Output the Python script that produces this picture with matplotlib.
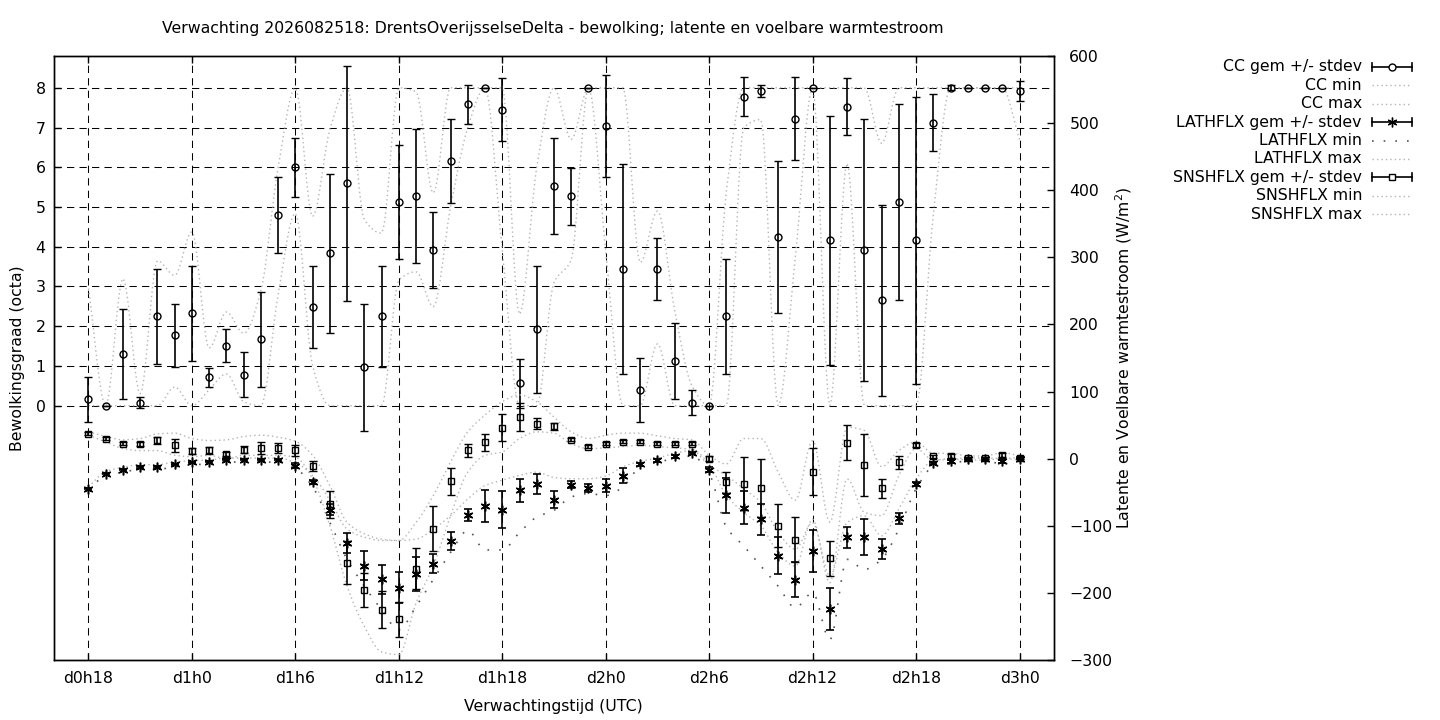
import numpy as np
import matplotlib
matplotlib.use('Agg')
import matplotlib.pyplot as plt
from matplotlib.lines import Line2D

# forecast hours (d0h18 .. d3h0)
hours = list(range(18, 73))
tick_hours = [18, 24, 30, 36, 42, 48, 54, 60, 66, 72]
tick_labels = ['d0h18', 'd1h0', 'd1h6', 'd1h12', 'd1h18', 'd2h0', 'd2h6', 'd2h12', 'd2h18', 'd3h0']

# bewolking (octa)
cc_mean = [0.16, 0.0, 1.30, 0.08, 2.25, 1.77, 2.32, 0.71, 1.51, 0.78, 1.67, 4.79,
           6.0, 2.48, 3.84, 5.60, 0.97, 2.25, 5.12, 5.28, 3.92, 6.16, 7.59, 8.0,
           7.45, 0.56, 1.92, 5.53, 5.27, 8.0, 7.04, 3.44, 0.40, 3.44, 1.12, 0.08,
           0.0, 2.25, 7.78, 7.92, 4.25, 7.22, 8.0, 4.16, 7.52, 3.92, 2.65, 5.12,
           4.16, 7.12, 8.0, 8.0, 8.0, 8.0, 7.92]
cc_sd = [0.56, 0.0, 1.13, 0.15, 1.20, 0.79, 1.20, 0.25, 0.41, 0.57, 1.20, 0.96,
         0.74, 1.03, 2.0, 2.96, 1.60, 1.27, 1.43, 1.68, 0.95, 1.05, 0.49, 0.0,
         0.80, 0.62, 1.60, 1.21, 0.72, 0.0, 1.29, 2.65, 0.80, 0.79, 0.96, 0.32,
         0.0, 1.45, 0.48, 0.16, 1.92, 1.04, 0.0, 3.13, 0.72, 3.30, 2.41, 2.47,
         3.61, 0.72, 0.06, 0.0, 0.0, 0.0, 0.24]
cc_min = [0, 0, 0, 0, 0, 0.47, 0, 0.4, 0.8, 0.1, 0, 2.8,
          4.84, 1.0, 0, 0, 0, 0, 3.16, 3.37, 2.49, 5.0, 7.0, 8.0,
          3.9, 0, 0, 3.1, 3.67, 8.0, 3.9, 0, 0, 1.56, 0, 0,
          0, 0, 7.0, 7.2, 0, 3.75, 8.0, 0, 6.1, 0, 0, 0,
          0, 4.8, 8.0, 8.0, 8.0, 8.0, 6.7]
cc_max = [2.95, 0, 3.2, 0.3, 3.65, 3.28, 4.38, 1.45, 2.36, 1.82, 2.9, 6.0,
          8.0, 4.76, 6.95, 8.0, 4.68, 4.34, 8.0, 7.9, 5.35, 8.0, 8.0, 8.0,
          8.0, 2.3, 6.0, 8.0, 6.7, 8.0, 8.0, 8.0, 3.6, 4.9, 2.4, 0.5,
          0, 5.4, 8, 8, 8, 8, 8, 8, 8, 8, 6.6, 8,
          8, 8, 8, 8, 8, 8, 8]

# latente warmtestroom (W/m2)
lat_mean = [-44.7, -22.3, -16.4, -12.4, -12.4, -8.4, -5.5, -4.5, -1.5, -1.5, -1.5, -1.5,
            -10.4, -35.2, -76, -125.6, -159.3, -180, -192, -172.2, -156.3, -123, -84.4, -71,
            -76, -47.1, -38.2, -61, -38.7, -43.2, -40.2, -25.3, -8.4, -2.5, 3.5, 8.4,
            -16.4, -54.6, -73, -90.3, -144.4, -180.1, -138, -224.3, -117.1, -117.1, -134.5, -88.8,
            -37.2, -6.5, -4, -0.5, -0.5, -4, 0]
lat_sd = [1, 1, 1, 1, 1, 1, 1, 1, 1, 1, 1, 1,
          4, 3, 8, 15, 22, 22, 23, 25, 14, 13, 9, 24,
          28, 17, 15, 13, 5, 6, 10, 11, 2, 2, 2, 2,
          4, 26, 25, 23, 28, 26, 31, 31, 16, 27, 15, 8,
          3, 2, 2, 1, 1, 2, 1]
lat_min = [-46, -25, -20, -16, -16, -12, -9, -8, -5, -5, -5, -5,
           -14, -42, -95, -150, -190, -225, -255, -220, -180, -140, -107, -136,
           -136, -110, -87, -77, -57, -52, -55, -42, -12, -5, 0, 4,
           -22, -102, -130, -160, -190, -222, -200, -270, -150, -165, -150, -105,
           -45, -12, -8, -3, -3, -8, -2]
lat_max = [-42, -19, -13, -9, -9, -5, -3, -2, 1, 1, 1, 1,
           -6, -25, -62, -105, -117, -122, -122, -120, -105, -85, -60, -40,
           -32, -25, -20, -28, -30, -30, -26, -12, -4, 1, 8, 12,
           -10, -25, -45, -65, -110, -135, -95, -175, -95, -85, -115, -75,
           -30, -3, -1, 1, 1, 0, 2]

# voelbare warmtestroom (W/m2)
sns_mean = [37.2, 29.8, 22.3, 22.3, 27.3, 19.9, 11.4, 12.4, 7.4, 13.4, 15.9, 15.9,
            12.4, -10.9, -68, -154.8, -196, -224.8, -239, -163.8, -104.2, -33.7, 12.4, 24.3,
            46.2, 62.5, 52.1, 48.1, 28.3, 17.9, 22.3, 25.3, 25.3, 22.3, 22.3, 22.3,
            0, -35.2, -37.2, -43.2, -99.8, -120.6, -19.4, -148.4, 23.8, -9.9, -44.2, -5.5,
            20.8, 3.5, 4.5, 1, 1, 6, 1.5]
sns_sd = [2, 2, 2, 3, 5, 10, 4, 5, 3, 5, 9, 8,
          8, 7, 20, 32, 25, 27, 26, 30, 33, 20, 10, 13,
          20, 21, 8, 5, 2, 2, 2, 2, 2, 2, 2, 2,
          4, 16, 40, 43, 32, 33, 35, 26, 26, 46, 14, 10,
          3, 2, 3, 2, 2, 3, 2]
sns_min = [35, 25, 15, 12, 12, 5, 3, 5, 0, 5, 5, 5,
           2, -30, -100, -190, -250, -288, -292, -215, -160, -85, -20, 5,
           10, 30, 40, 38, 22, 15, 16, 18, 20, 18, 16, 14,
           -8, -55, -80, -100, -140, -160, -90, -185, -30, -80, -85, -25,
           15, -2, 0, -2, -2, 0, -2]
sns_max = [40, 33, 28, 30, 37, 38, 30, 27, 28, 33, 35, 32,
           26, 5, -40, -95, -112, -120, -122, -95, -55, -5, 40, 65,
           85, 95, 85, 62, 40, 30, 35, 38, 38, 34, 30, 28,
           5, -8, 30, 30, -20, -62, 27, -95, 47, 42, -12, 12,
           25, 8, 8, 4, 4, 9, 4]


def smooth(x, y, n=10):
    # monotone cubic (Fritsch-Carlson), only for drawing the min/max lines
    x = np.asarray(x, float)
    y = np.asarray(y, float)
    h = np.diff(x)
    dl = np.diff(y) / h
    m = np.zeros(len(x))
    m[0], m[-1] = dl[0], dl[-1]
    for k in range(1, len(x) - 1):
        if dl[k - 1] * dl[k] > 0:
            w1 = 2 * h[k] + h[k - 1]
            w2 = h[k] + 2 * h[k - 1]
            m[k] = (w1 + w2) / (w1 / dl[k - 1] + w2 / dl[k])
    xs, ys = [], []
    for i in range(len(x) - 1):
        t = np.linspace(0, 1, n, endpoint=False)
        h00 = 2 * t ** 3 - 3 * t ** 2 + 1
        h10 = t ** 3 - 2 * t ** 2 + t
        h01 = -2 * t ** 3 + 3 * t ** 2
        h11 = t ** 3 - t ** 2
        xs.append(x[i] + t * h[i])
        ys.append(h00 * y[i] + h10 * h[i] * m[i] + h01 * y[i + 1] + h11 * h[i] * m[i + 1])
    xs.append([x[-1]])
    ys.append([y[-1]])
    return np.concatenate(xs), np.concatenate(ys)


W, H = 1440, 720
plt.rcParams['font.family'] = 'DejaVu Sans'
plt.rcParams['font.size'] = 11.3

fig = plt.figure(figsize=(W / 100, H / 100), dpi=100)
ax = fig.add_axes([54 / W, 1 - 660 / H, 1000 / W, 604 / H])
ax2 = ax.twinx()

light = '#b4b4b4'
dots = (0, (1, 2.2))
star = (6, 2, 0)

ax.set_xlim(16, 74)
ax.set_ylim(-6.4, 8.8)
ax2.set_ylim(-300, 600)

# CC
for s in (cc_min, cc_max):
    xs, ys = smooth(hours, s)
    ax.plot(xs, ys, color=light, ls=dots, lw=1)
ax.errorbar(hours, cc_mean, yerr=cc_sd, fmt='o', ms=5, mfc='none', mec='k', mew=1,
            ecolor='k', elinewidth=1.2, capsize=3, capthick=1.2)

# fluxes
xs, ys = smooth(hours, lat_min)
ax2.plot(xs, ys, color='#555555', ls=(0, (1, 6)), lw=1.2)
for s in (lat_max, sns_min, sns_max):
    xs, ys = smooth(hours, s)
    ax2.plot(xs, ys, color=light, ls=dots, lw=1)
ax2.errorbar(hours, lat_mean, yerr=lat_sd, fmt='none', ecolor='k', elinewidth=1.2,
             capsize=3, capthick=1.2)
ax2.plot(hours, lat_mean, ls='none', marker=star, ms=7, mec='k', mew=1.1)
ax2.errorbar(hours, sns_mean, yerr=sns_sd, fmt='s', ms=4.8, mfc='none', mec='k', mew=1,
             ecolor='k', elinewidth=1.2, capsize=3, capthick=1.2)

# axes styling
ax.set_xticks(tick_hours)
ax.set_xticklabels(tick_labels)
ax.set_yticks(range(0, 9))
ax2.set_yticks(range(-300, 601, 100))
ax.grid(True, color='k', lw=0.75, ls=(0, (7, 5)))
ax.tick_params(axis='x', direction='in', length=5, width=1, top=True, pad=8)
ax.tick_params(axis='y', direction='in', length=5, width=1, right=False, pad=6)
ax2.tick_params(axis='y', direction='in', length=5, width=1, pad=11)
for a in (ax, ax2):
    for sp in a.spines.values():
        sp.set_linewidth(1)

fig.text(553 / W, 1 - 29 / H, 'Verwachting 2026082518: DrentsOverijsselseDelta - bewolking; latente en voelbare warmtestroom',
         ha='center', va='center')
fig.text(553 / W, 1 - 706 / H, 'Verwachtingstijd (UTC)', ha='center', va='center')
fig.text(18 / W, 1 - 358 / H, 'Bewolkingsgraad (octa)', ha='center', va='center', rotation=90)
fig.text(1124 / W, 1 - 358 / H, 'Latente en Voelbare warmtestroom (W/m$^2$)', ha='center', va='center',
         rotation=90)

# legend, gnuplot style (text right, sample after it)
entries = [('CC gem +/- stdev', 'err', 'o'), ('CC min', 'line', None), ('CC max', 'line', None),
           ('LATHFLX gem +/- stdev', 'err', star), ('LATHFLX min', 'dark', None),
           ('LATHFLX max', 'line', None), ('SNSHFLX gem +/- stdev', 'err', 's'),
           ('SNSHFLX min', 'line', None), ('SNSHFLX max', 'line', None)]
x0, x1 = 1372, 1412
for i, (label, kind, mk) in enumerate(entries):
    yp = 1 - (66.7 + 18.45 * i) / H
    fig.text(1362 / W, yp, label, ha='right', va='center')
    if kind == 'err':
        fig.add_artist(Line2D([x0 / W, x1 / W], [yp, yp], color='k', lw=1.2))
        for xc in (x0, x1):
            fig.add_artist(Line2D([xc / W, xc / W], [yp - 4 / H, yp + 4 / H], color='k', lw=1.2))
        fig.add_artist(Line2D([(x0 + x1) / 2 / W], [yp], ls='none', marker=mk, ms=5 if mk != star else 7,
                              mfc='white', mec='k', mew=1))
    elif kind == 'dark':
        fig.add_artist(Line2D([x0 / W, x1 / W], [yp, yp], color='#555555', ls=(0, (1, 6)), lw=1.2))
    else:
        fig.add_artist(Line2D([x0 / W, x1 / W], [yp, yp], color=light, ls=dots, lw=1))

fig.savefig('out.png', dpi=100)
